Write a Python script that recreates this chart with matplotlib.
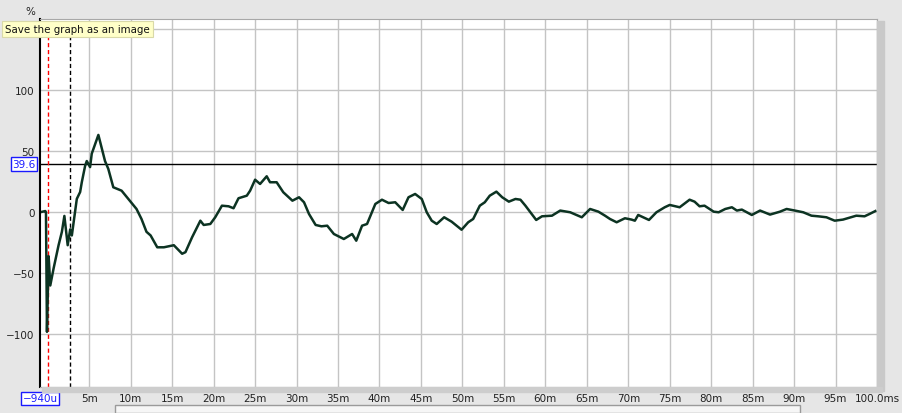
import matplotlib
matplotlib.use("Agg")
import matplotlib.pyplot as plt
from matplotlib.patches import Rectangle

# impulse-like response, time in ms, value in %
t_ms = [-0.94, -0.6, -0.3, -0.22, -0.1, 0.1, 0.3, 0.7, 1.3, 1.7, 2.0, 2.4, 2.7, 2.9,
        3.5, 3.9, 4.1, 4.5, 4.7, 5.1, 5.3, 6.1, 6.9, 7.3, 7.9, 8.9, 9.7, 10.7, 11.3,
        11.9, 12.4, 13.2, 14.0, 15.2, 16.2, 16.6, 17.4, 18.4, 18.8, 19.6, 20.2, 21.0,
        21.8, 22.4, 23.0, 24.0, 24.4, 25.0, 25.6, 26.4, 26.8, 27.6, 28.4, 29.5, 30.3,
        30.9, 31.5, 32.3, 33.0, 33.7, 34.5, 35.7, 36.7, 37.2, 37.9, 38.5, 39.5, 40.3,
        41.1, 41.9, 42.8, 43.5, 44.3, 45.1, 45.7, 46.3, 46.9, 47.8, 48.7, 49.9, 50.7,
        51.3, 52.1, 52.7, 53.3, 54.1, 54.8, 55.6, 56.4, 57.0, 57.6, 58.2, 58.9, 59.6,
        60.8, 61.8, 63.0, 64.4, 65.4, 66.4, 67.2, 67.8, 68.6, 69.6, 70.4, 70.8, 71.2,
        71.8, 72.5, 73.4, 74.4, 75.0, 76.2, 77.4, 78.0, 78.6, 79.2, 80.3, 80.9, 81.7,
        82.5, 83.1, 83.7, 84.9, 85.9, 87.1, 88.3, 89.1, 90.1, 91.1, 92.1, 92.9, 93.9,
        94.9, 95.9, 97.5, 98.5, 99.1, 99.8]
pct = [0, 0.5, 1, 0, -98, -36, -60, -46, -27, -16, -3, -27, -14, -19,
       11, 16.6, 24.6, 38, 42, 37, 48, 63.4, 42, 35.5, 20.5, 17.7, 11, 2.7, -5.5,
       -16, -19, -28.7, -28.7, -27, -34, -32.7, -20.5, -6.9, -10.4, -9.6, -4, 5.4,
       4.9, 3.3, 11.5, 13.6, 17.7, 26.7, 23.2, 29.5, 24.6, 24.6, 16.4, 9.5, 12.3,
       8.2, -1.4, -10.4, -11.5, -11, -17.8, -21.9, -17.8, -23.3, -11, -9.6, 6.8, 10.3,
       7.6, 8.2, 1.9, 12.3, 15, 10.9, 0, -6.9, -9.6, -4.1, -7.7, -14.3, -8.2,
       -5.5, 5.4, 8.2, 13.6, 16.9, 12.3, 8.7, 10.9, 10.3, 5.4, 0, -6.3, -3.3,
       -2.8, 1.4, 0, -4.1, 2.7, 0.5, -2.8, -5.5, -8.2, -4.9, -6, -6.9, -2.2,
       -4.1, -6.3, 0, 4.1, 6, 4.1, 10.3, 8.7, 4.9, 5.4, 0.5, 0, 2.7,
       4.1, 1.4, 2.2, -2.2, 1.4, -1.9, 0.5, 2.7, 1.4, 0, -2.8, -3.3, -4.1,
       -6.9, -6, -2.8, -3.3, -1.4, 1]

cursor_level = 39.6
marker_t = 2.66
x_ticks = [5, 10, 15, 20, 25, 30, 35, 40, 45, 50, 55, 60, 65, 70, 75, 80, 85, 90, 95, 100]
x_labels = [f"{v}m" for v in x_ticks[:-1]] + ["100.0ms"]
# 150 gridline label is hidden under the tooltip in the original
y_ticks = [-100, -50, 0, 50, 100, 150]
y_labels = ["\u2212100", "\u221250", "0", "50", "100", ""]

W, H = 902, 414
fig = plt.figure(figsize=(W / 100, H / 100), dpi=100)
fig.patch.set_facecolor("#e6e6e6")

# shadow of the plot panel
fig.patches.append(Rectangle((877 / W, 1 - 392 / H), 7 / W, 370 / H,
                             transform=fig.transFigure, color="#c9c9c9", zorder=0))
fig.patches.append(Rectangle((42 / W, 1 - 393 / H), 840 / W, 5 / H,
                             transform=fig.transFigure, color="#cdcdcd", zorder=0))
# scrollbar at the bottom
fig.patches.append(Rectangle((115 / W, 0), 685 / W, 8 / H, transform=fig.transFigure,
                             facecolor="#f6f6f6", edgecolor="#9a9a9a", lw=1, zorder=0))

ax = fig.add_axes([40 / W, 1 - 388 / H, 837 / W, 368 / H])
ax.set_facecolor("white")
ax.set_xlim(-0.94, 100)
ax.set_ylim(-143.2, 158.4)

ax.set_xticks(x_ticks)
ax.set_xticklabels(x_labels)
ax.set_yticks(y_ticks)
ax.set_yticklabels(y_labels)
ax.tick_params(length=0, labelsize=7.5, colors="#222222", pad=4)
ax.grid(True, color="#c4c4c4", lw=1)
ax.set_axisbelow(True)

for s in ["top", "right", "bottom"]:
    ax.spines[s].set_color("#a8a8a8")
ax.spines["left"].set_color("black")
ax.spines["left"].set_linewidth(1.5)

ax.axhline(cursor_level, color="black", lw=1)
ax.axvline(0, color="red", lw=1, ls=(0, (3, 2)))
ax.axvline(marker_t, color="black", lw=1, ls=(0, (3, 2)))

ax.plot(t_ms, pct, color="#0c3322", lw=1.8, solid_joinstyle="round")

box = dict(boxstyle="square,pad=0.15", facecolor="white", edgecolor="#1a1aff", lw=1)
ax.text(-0.005, cursor_level, "39.6", transform=ax.get_yaxis_transform(), ha="right",
        va="center", fontsize=7.5, color="#1a1aff", bbox=box)
ax.text(-0.94, -0.017, "\u2212940u", transform=ax.get_xaxis_transform(), ha="center",
        va="top", fontsize=7.5, color="#1a1aff", bbox=box)

fig.text(30 / W, 1 - 12 / H, "%", ha="center", va="center", fontsize=7.5, color="#222222")
fig.text(5 / W, 1 - 30 / H, "Save the graph as an image", ha="left", va="center",
         fontsize=7.4, color="#111111", zorder=10,
         bbox=dict(boxstyle="square,pad=0.3", facecolor="#ffffc8", edgecolor="#d9d9a8", lw=0.8))

fig.savefig("out.png", dpi=100, facecolor=fig.get_facecolor())
